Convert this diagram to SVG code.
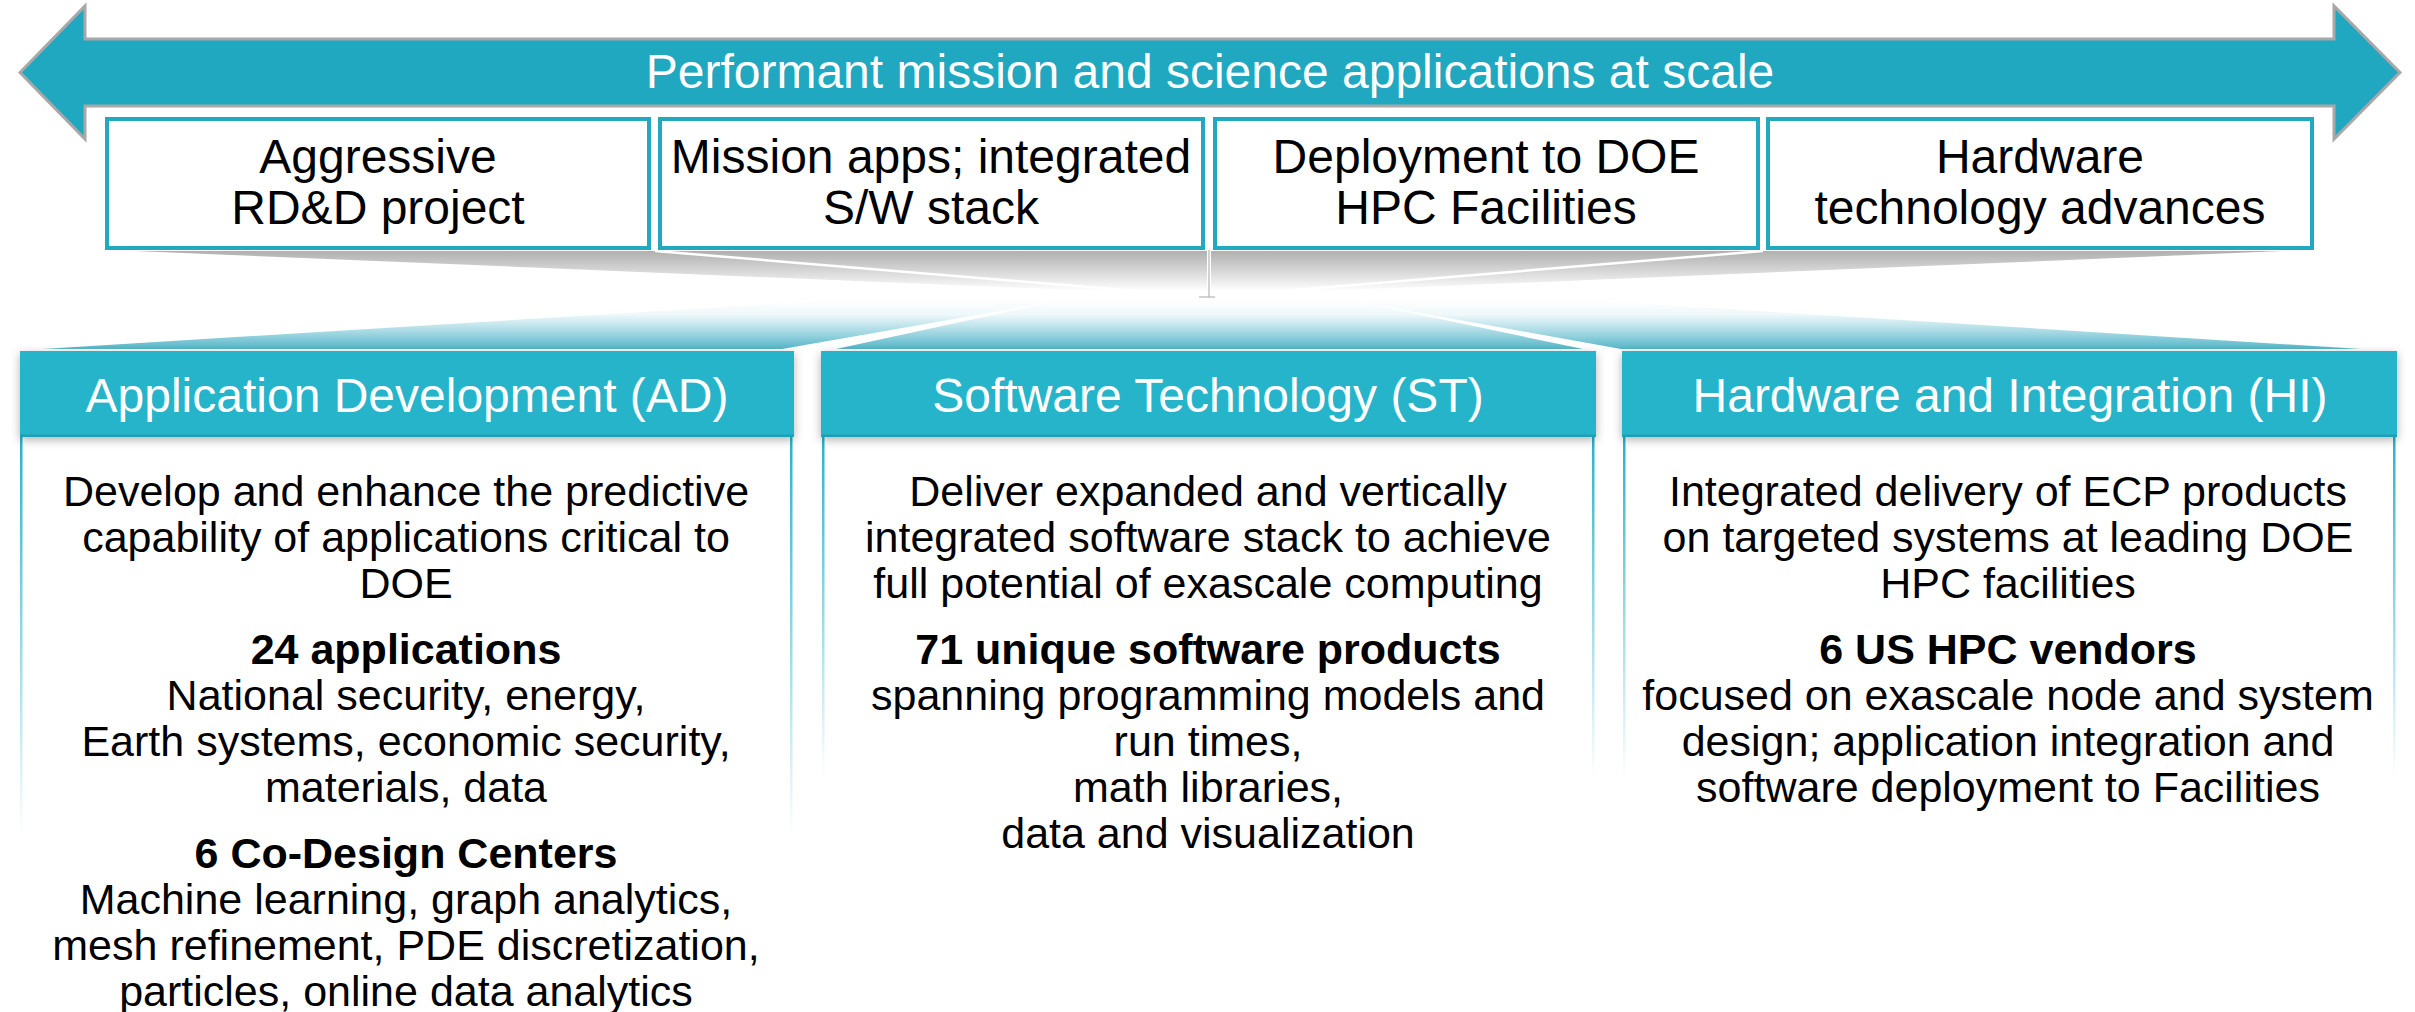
<svg xmlns="http://www.w3.org/2000/svg" width="2415" height="1012" viewBox="0 0 2415 1012">
<defs>
<linearGradient id="gf" gradientUnits="userSpaceOnUse" x1="0" y1="251" x2="0" y2="298">
<stop offset="0" stop-color="#b0b0b0"/><stop offset="0.45" stop-color="#d9d9d9"/><stop offset="0.85" stop-color="#ffffff"/>
</linearGradient>
<linearGradient id="tf" gradientUnits="userSpaceOnUse" x1="0" y1="300" x2="0" y2="349">
<stop offset="0" stop-color="#ffffff"/><stop offset="0.3" stop-color="#eef8fa"/><stop offset="0.65" stop-color="#a6d9e4"/><stop offset="1" stop-color="#55b5c9"/>
</linearGradient>
<linearGradient id="side" x1="0" y1="0" x2="0" y2="1">
<stop offset="0" stop-color="#2bb1c7"/><stop offset="1" stop-color="#2bb1c7" stop-opacity="0"/>
</linearGradient>
<filter id="sh" x="-5%" y="-30%" width="110%" height="170%">
<feDropShadow dx="0" dy="3" stdDeviation="5" flood-color="#000" flood-opacity="0.3"/>
</filter>
</defs>
<style>
text { font-family: "Liberation Sans", Arial, sans-serif; text-anchor: middle; }
.t48 { font-size: 48px; fill: #000; }
.w48 { font-size: 48px; fill: #fff; }
.b { font-size: 43px; fill: #000; }
.bb { font-size: 43px; font-weight: bold; fill: #000; }
.box { fill: #fff; stroke: #22a9c0; stroke-width: 4; }
.hdr { fill: #25b4cb; }
.hdrline { fill: #1d9fb5; }
.sep { stroke: #fff; stroke-width: 2.5; }
.tf { fill: url(#tf); }
</style>

<g id="banner-arrow">
<path d="M20,72.5 L85,6 L85,39 L2334,39 L2334,6 L2400,72.5 L2334,139 L2334,106 L85,106 L85,139 Z" fill="#1fa8c0" stroke="#a8a8a8" stroke-width="3"/>
<text class="w48" x="1210" y="88">Performant mission and science applications at scale</text>
</g>

<g id="connectors">
<polygon points="105,251 2314,251 1209,297" fill="url(#gf)"/>
<line class="sep" x1="105" y1="251" x2="1209" y2="297"/>
<line class="sep" x1="655" y1="251" x2="1209" y2="297"/>
<line class="sep" x1="1763" y1="251" x2="1209" y2="297"/>
<line class="sep" x1="2314" y1="251" x2="1209" y2="297"/>
<line x1="1209" y1="250" x2="1209" y2="297" stroke="#fff" stroke-width="4"/>
<line x1="1209" y1="250" x2="1209" y2="297" stroke="#b5b5b5" stroke-width="1.2"/>
<line x1="1199" y1="297" x2="1215" y2="297" stroke="#b5b5b5" stroke-width="1.2"/>
<polygon class="tf" points="43,349 782,349 1057,301 820,301"/>
<polygon class="tf" points="836,349 1583,349 1354,301 1057,301"/>
<polygon class="tf" points="1621,349 2361,349 1600,301 1354,301"/>
</g>

<g id="box-rdd">
<rect class="box" x="107" y="119" width="542" height="129"/>
<text class="t48" x="378" y="173">Aggressive</text>
<text class="t48" x="378" y="224">RD&amp;D project</text>
</g>
<g id="box-apps">
<rect class="box" x="660" y="119" width="543" height="129"/>
<text class="t48" x="931" y="173">Mission apps; integrated</text>
<text class="t48" x="931" y="224">S/W stack</text>
</g>
<g id="box-deploy">
<rect class="box" x="1215" y="119" width="543" height="129"/>
<text class="t48" x="1486" y="173">Deployment to DOE</text>
<text class="t48" x="1486" y="224">HPC Facilities</text>
</g>
<g id="box-hw">
<rect class="box" x="1768" y="119" width="544" height="129"/>
<text class="t48" x="2040" y="173">Hardware</text>
<text class="t48" x="2040" y="224">technology advances</text>
</g>

<g id="col-ad">
<rect x="20" y="437" width="2.5" height="400" fill="url(#side)"/>
<rect x="790" y="437" width="2.5" height="400" fill="url(#side)"/>
<rect class="hdr" x="20" y="351" width="774" height="86" filter="url(#sh)"/>
<rect class="hdrline" x="20" y="434.5" width="774" height="2.5"/>
<text class="w48" x="407" y="412">Application Development (AD)</text>
<text class="b" x="406" y="506">Develop and enhance the predictive</text>
<text class="b" x="406" y="552">capability of applications critical to</text>
<text class="b" x="406" y="598">DOE</text>
<text class="bb" x="406" y="664">24 applications</text>
<text class="b" x="406" y="710">National security, energy,</text>
<text class="b" x="406" y="756">Earth systems, economic security,</text>
<text class="b" x="406" y="802">materials, data</text>
<text class="bb" x="406" y="868">6 Co-Design Centers</text>
<text class="b" x="406" y="914">Machine learning, graph analytics,</text>
<text class="b" x="406" y="960">mesh refinement, PDE discretization,</text>
<text class="b" x="406" y="1006">particles, online data analytics</text>
</g>

<g id="col-st">
<rect x="822" y="437" width="2.5" height="340" fill="url(#side)"/>
<rect x="1592" y="437" width="2.5" height="340" fill="url(#side)"/>
<rect class="hdr" x="821" y="351" width="775" height="86" filter="url(#sh)"/>
<rect class="hdrline" x="821" y="434.5" width="775" height="2.5"/>
<text class="w48" x="1208" y="412">Software Technology (ST)</text>
<text class="b" x="1208" y="506">Deliver expanded and vertically</text>
<text class="b" x="1208" y="552">integrated software stack to achieve</text>
<text class="b" x="1208" y="598">full potential of exascale computing</text>
<text class="bb" x="1208" y="664">71 unique software products</text>
<text class="b" x="1208" y="710">spanning programming models and</text>
<text class="b" x="1208" y="756">run times,</text>
<text class="b" x="1208" y="802">math libraries,</text>
<text class="b" x="1208" y="848">data and visualization</text>
</g>

<g id="col-hi">
<rect x="1623" y="437" width="2.5" height="340" fill="url(#side)"/>
<rect x="2393" y="437" width="2.5" height="340" fill="url(#side)"/>
<rect class="hdr" x="1622" y="351" width="775" height="86" filter="url(#sh)"/>
<rect class="hdrline" x="1622" y="434.5" width="775" height="2.5"/>
<text class="w48" x="2010" y="412">Hardware and Integration (HI)</text>
<text class="b" x="2008" y="506">Integrated delivery of ECP products</text>
<text class="b" x="2008" y="552">on targeted systems at leading DOE</text>
<text class="b" x="2008" y="598">HPC facilities</text>
<text class="bb" x="2008" y="664">6 US HPC vendors</text>
<text class="b" x="2008" y="710">focused on exascale node and system</text>
<text class="b" x="2008" y="756">design; application integration and</text>
<text class="b" x="2008" y="802">software deployment to Facilities</text>
</g>
</svg>
